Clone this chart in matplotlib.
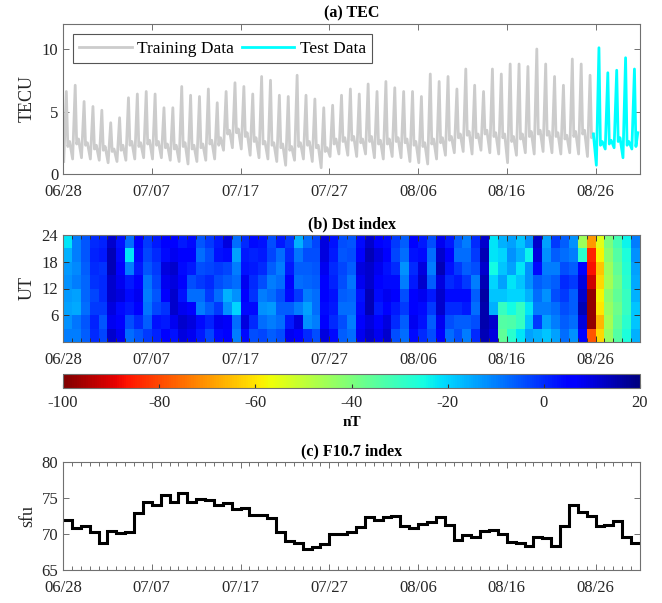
import numpy as np
import matplotlib
matplotlib.use('Agg')
import matplotlib.pyplot as plt

plt.rcParams['font.family'] = ['Liberation Serif', 'DejaVu Serif']
plt.rcParams['axes.linewidth'] = 0.8
plt.rcParams['axes.unicode_minus'] = False

# ---------------- data ----------------
tick_days = [0, 10, 20, 30, 40, 50, 60]
tick_labels = ['06/28', '07/07', '07/17', '07/27', '08/06', '08/16', '08/26']
n_days = 65
n_train = 60

# TEC: daily trough, peak, post-peak level and evening level (TECU)
tec_low = [1.0, 1.2, 1.3, 1.2, 1.1, 0.9, 1.0, 1.1, 1.2, 1.3,
           1.2, 1.3, 1.1, 1.0, 0.8, 1.0, 1.1, 1.2, 1.9, 2.1,
           2.0, 1.5, 1.3, 1.2, 1.0, 0.7, 1.1, 1.2, 1.0, 0.5,
           1.4, 1.6, 1.5, 1.4, 1.6, 1.3, 1.2, 1.4, 1.3, 1.0,
           0.9, 0.8, 1.2, 1.5, 1.7, 1.8, 1.6, 1.9, 1.7, 1.6,
           0.9, 1.5, 1.7, 1.6, 1.8, 1.7, 1.6, 1.7, 1.6, 1.4,
           0.7, 2.0, 2.1, 1.3, 2.0]
tec_peak = [6.6, 7.1, 5.8, 5.4, 5.1, 4.1, 4.5, 6.1, 6.4, 6.6,
            6.4, 5.3, 5.3, 7.0, 6.3, 6.2, 6.8, 5.7, 6.6, 7.3,
            7.0, 6.4, 7.8, 7.5, 6.3, 6.2, 7.9, 6.3, 6.0, 5.3,
            5.5, 6.3, 6.8, 6.4, 7.2, 6.6, 7.4, 6.9, 6.6, 6.6,
            6.2, 8.0, 7.4, 7.8, 6.8, 8.4, 7.1, 6.6, 8.4, 8.0,
            8.8, 8.8, 8.6, 10.0, 8.8, 7.8, 7.1, 9.2, 8.8, 7.9,
            10.1, 8.1, 8.3, 9.3, 8.4]
tec_mid = [2.2, 2.4, 2.3, 2.0, 1.9, 1.8, 1.9, 2.3, 2.2, 2.4,
           2.3, 2.1, 2.0, 2.2, 2.0, 2.1, 2.4, 2.3, 3.2, 3.3,
           3.0, 2.6, 2.4, 2.3, 2.1, 1.9, 2.2, 2.3, 2.1, 1.8,
           2.4, 2.6, 2.7, 2.5, 2.6, 2.4, 2.4, 2.6, 2.5, 2.3,
           2.2, 2.4, 2.5, 2.7, 2.9, 3.1, 2.9, 3.2, 3.0, 2.9,
           2.6, 2.8, 3.0, 3.2, 3.1, 3.0, 2.8, 3.0, 3.2, 2.9,
           2.3, 2.4, 2.6, 2.3, 2.2]
tec_late = [2.6, 2.8, 2.5, 2.3, 2.2, 2.0, 2.3, 2.6, 2.5, 2.7,
            2.6, 2.4, 2.3, 2.5, 2.3, 2.4, 2.7, 2.9, 3.5, 3.6,
            3.3, 2.9, 2.6, 2.5, 2.4, 2.2, 2.5, 2.6, 2.3, 2.1,
            2.8, 2.9, 3.0, 2.8, 3.0, 2.7, 2.8, 2.9, 2.8, 2.6,
            2.5, 2.8, 2.9, 3.0, 3.2, 3.4, 3.2, 3.5, 3.3, 3.2,
            3.0, 3.2, 3.4, 3.5, 3.4, 3.3, 3.1, 3.4, 3.5, 3.2,
            2.6, 2.7, 2.9, 2.6, 3.3]
tec_hours = [2, 9, 13, 18]   # UT hour of each daily value

# Dst (nT): one row per day, 3-hourly bins from UT 0 to 24
dst = [
    [-10, -12, -14, -13, -12, -13, -16, -22],
    [-10, -9, -15, -14, -10, -11, -10, -10],
    [-6, -5, -8, -7, -7, -6, -5, -5],
    [0, 1, -2, -3, -1, 0, 1, 0],
    [-3, -5, -2, 0, 0, -1, 2, 1],
    [12, 8, 10, 12, 12, 14, 14, 12],
    [8, 6, 4, 10, 8, 6, 4, 3],
    [-8, -4, 2, 4, 2, -10, -22, -8],
    [-5, 0, 5, 8, 6, 2, 4, 5],
    [-2, -6, -9, -10, -9, -5, -3, -2],
    [1, 3, -3, -5, -3, -2, 0, 2],
    [6, 2, -1, 5, 8, 10, 4, 6],
    [3, 8, 12, 12, 10, 12, 8, 6],
    [10, 12, 8, 3, 6, 4, 6, 2],
    [8, 10, 5, -8, -4, 2, 6, 4],
    [2, 4, -10, -8, -2, -4, -8, -5],
    [-3, 1, -6, -2, 0, -3, -4, -2],
    [4, 8, -2, -8, -4, -2, 3, 2],
    [5, 7, -12, -16, -6, -3, 4, 10],
    [-10, -8, -20, -12, -8, -10, -14, -8],
    [4, 10, 4, 6, 8, 3, 2, 0],
    [-4, 0, 4, -1, 0, 2, 1, 4],
    [-3, -8, -12, -10, -4, 0, 2, 3],
    [-6, -10, -13, -8, -10, -6, -3, -4],
    [-4, -8, -6, -4, -8, -10, -8, 2],
    [8, 2, -6, 4, 5, 2, 0, -2],
    [5, 10, -10, -2, -8, -6, -9, -16],
    [0, -12, -14, -10, -7, -6, -4, -8],
    [-4, -10, -8, -8, -6, -5, -4, -3],
    [10, 6, 4, 6, 5, 8, 10, 10],
    [4, 0, 2, 3, 1, 0, 2, 3],
    [-6, -4, -8, -6, -4, -3, -5, -4],
    [-8, -10, -8, -7, -9, -6, -4, -5],
    [8, 6, 4, 3, 8, 10, 6, 4],
    [12, 10, 14, 14, 12, 12, 14, 12],
    [8, 6, 2, 4, 6, 8, 10, 6],
    [12, 10, 6, 8, 4, 3, 5, 4],
    [-4, 0, 2, 6, 4, 0, -3, -2],
    [-8, -6, -2, -4, -10, -12, -8, -6],
    [4, 8, 5, 6, 2, 0, 3, 5],
    [0, 3, 4, 8, 12, 10, 4, 2],
    [-4, -6, -2, 2, -6, -10, -8, -4],
    [6, 8, 12, 12, 10, 14, 12, 8],
    [-8, -4, 0, 4, 0, 3, 6, 2],
    [-4, -6, 0, 4, 2, -2, -8, -6],
    [-10, -6, 2, 4, -2, -6, -8, -10],
    [0, -4, -8, -6, -10, -4, -2, 0],
    [14, 15, 15, 16, 14, 12, 14, 12],
    [10, 12, -16, -18, -20, -25, -22, -22],
    [-36, -34, -30, -18, -14, -18, -20, -16],
    [-28, -33, -25, -20, -22, -14, -12, -14],
    [-22, -30, -30, -20, -18, -22, -16, -18],
    [-14, -18, -22, -16, -12, -12, -24, -12],
    [-16, -2, -10, -8, -6, 4, 10, 12],
    [-18, -14, -10, -12, -8, -10, -12, -14],
    [-14, -10, -8, -4, -6, -10, -6, -2],
    [-8, -6, -4, -2, 0, -4, -8, -6],
    [-12, -8, -6, -6, -2, -6, -10, -12],
    [6, 10, 14, 12, 10, 6, -28, -45],
    [-78, -98, -98, -98, -92, -87, -85, -70],
    [-62, -66, -60, -58, -62, -64, -58, -55],
    [-44, -46, -44, -42, -46, -45, -42, -40],
    [-34, -36, -38, -36, -38, -36, -34, -32],
    [-26, -28, -30, -30, -28, -27, -26, -24],
    [-16, -18, -18, -16, -15, -14, -12, -10],
]
dst_edges_ut = [0, 3, 6, 9, 12, 15, 18, 21, 24]

# F10.7 (sfu), daily
f107 = [71.9, 70.8, 71.1, 70.3, 68.7, 70.4, 70.1, 70.3, 72.9, 74.4,
        74.0, 75.4, 74.4, 75.7, 74.5, 74.9, 74.7, 74.0, 74.3, 73.5,
        73.6, 72.7, 72.6, 72.2, 70.3, 69.0, 68.8, 67.9, 68.2, 68.6,
        70.0, 70.0, 70.3, 71.0, 72.3, 71.9, 72.3, 72.5, 71.1, 70.9,
        71.4, 71.6, 72.3, 71.3, 69.2, 69.9, 69.6, 70.4, 70.6, 70.0,
        68.9, 68.8, 68.3, 69.6, 69.4, 68.3, 71.1, 74.0, 73.0, 72.5,
        71.1, 71.2, 71.8, 69.6, 68.7]

AX_COLOR = '#707070'
TXT_COLOR = '#262626'


def style_axes(ax, minor_days=False):
    """MATLAB風の軸"""
    for s in ax.spines.values():
        s.set_color(AX_COLOR)
    ax.set_xlim(0, n_days)
    ax.set_xticks(tick_days)
    ax.set_xticklabels(tick_labels)
    if minor_days:
        ax.set_xticks(np.arange(n_days + 1), minor=True)
    ax.tick_params(which='both', direction='in', top=True, right=True,
                   colors=AX_COLOR, labelcolor=TXT_COLOR, labelsize=12)
    ax.tick_params(which='major', length=4, width=0.7)
    ax.tick_params(which='minor', length=3, width=0.7)
    ax.tick_params(axis='x', pad=7)


def main():
    fig = plt.figure(figsize=(6.62, 6.03), dpi=100)

    # ---------------- (a) TEC ----------------
    ax1 = fig.add_axes([63 / 662, 1 - 174 / 603, 577 / 662, 150 / 603])
    t = (np.arange(n_days)[:, None] + np.array(tec_hours)[None, :] / 24.0).ravel()
    v = np.column_stack([tec_low, tec_peak, tec_mid, tec_late]).ravel()
    k = n_train * len(tec_hours)
    ax1.plot(t[:k], v[:k], color='#cccccc', lw=2.0, label='Training Data')
    ax1.plot(t[k - 1:], v[k - 1:], color='#00ffff', lw=2.0, label='Test Data')
    ax1.set_ylim(0, 12)
    ax1.set_yticks([0, 5, 10])
    style_axes(ax1)
    ax1.set_ylabel('TECU', fontsize=13, color=TXT_COLOR, labelpad=4)
    ax1.set_title('(a) TEC', fontsize=11.5, fontweight='bold', pad=5)
    leg = ax1.legend(loc='upper left', ncol=2, fontsize=12.5, handlelength=3.0,
                     columnspacing=0.5, handletextpad=0.3, borderpad=0.35,
                     fancybox=False, framealpha=1, borderaxespad=0.6)
    leg.get_frame().set_edgecolor('#555555')
    leg.get_frame().set_linewidth(0.8)

    # ---------------- (b) Dst ----------------
    ax2 = fig.add_axes([63 / 662, 1 - 342 / 603, 577 / 662, 107 / 603])
    z = np.array(dst, dtype=float).T
    mesh = ax2.pcolormesh(np.arange(n_days + 1), dst_edges_ut, z,
                          cmap='jet_r', vmin=-100, vmax=20, shading='flat')
    ax2.set_ylim(0, 24)
    ax2.set_yticks([6, 12, 18, 24])
    style_axes(ax2, minor_days=True)
    ax2.tick_params(which='both', colors='#333333', labelcolor=TXT_COLOR)
    ax2.set_ylabel('UT', fontsize=13, color=TXT_COLOR, labelpad=4)
    ax2.set_title('(b) Dst index', fontsize=11.5, fontweight='bold', pad=5)

    cax = fig.add_axes([63 / 662, 1 - 388 / 603, 577 / 662, 14 / 603])
    cb = fig.colorbar(mesh, cax=cax, orientation='horizontal')
    cb.set_ticks([-100, -80, -60, -40, -20, 0, 20])
    cb.ax.tick_params(direction='in', length=3, colors='#333333',
                      labelcolor=TXT_COLOR, labelsize=12, pad=5)
    cb.outline.set_edgecolor(AX_COLOR)
    cb.set_label('nT', fontsize=11, fontweight='bold', labelpad=4)

    # ---------------- (c) F10.7 ----------------
    ax3 = fig.add_axes([63 / 662, 1 - 570 / 603, 577 / 662, 108 / 603])
    ax3.stairs(f107, np.arange(n_days + 1), color='black', lw=2.2,
               baseline=None)
    ax3.set_ylim(65, 80)
    ax3.set_yticks([65, 70, 75, 80])
    style_axes(ax3, minor_days=True)
    ax3.set_ylabel('sfu', fontsize=13, color=TXT_COLOR, labelpad=4)
    ax3.set_title('(c) F10.7 index', fontsize=11.5, fontweight='bold', pad=5)

    fig.savefig('out.png', dpi=100)


if __name__ == '__main__':
    main()
